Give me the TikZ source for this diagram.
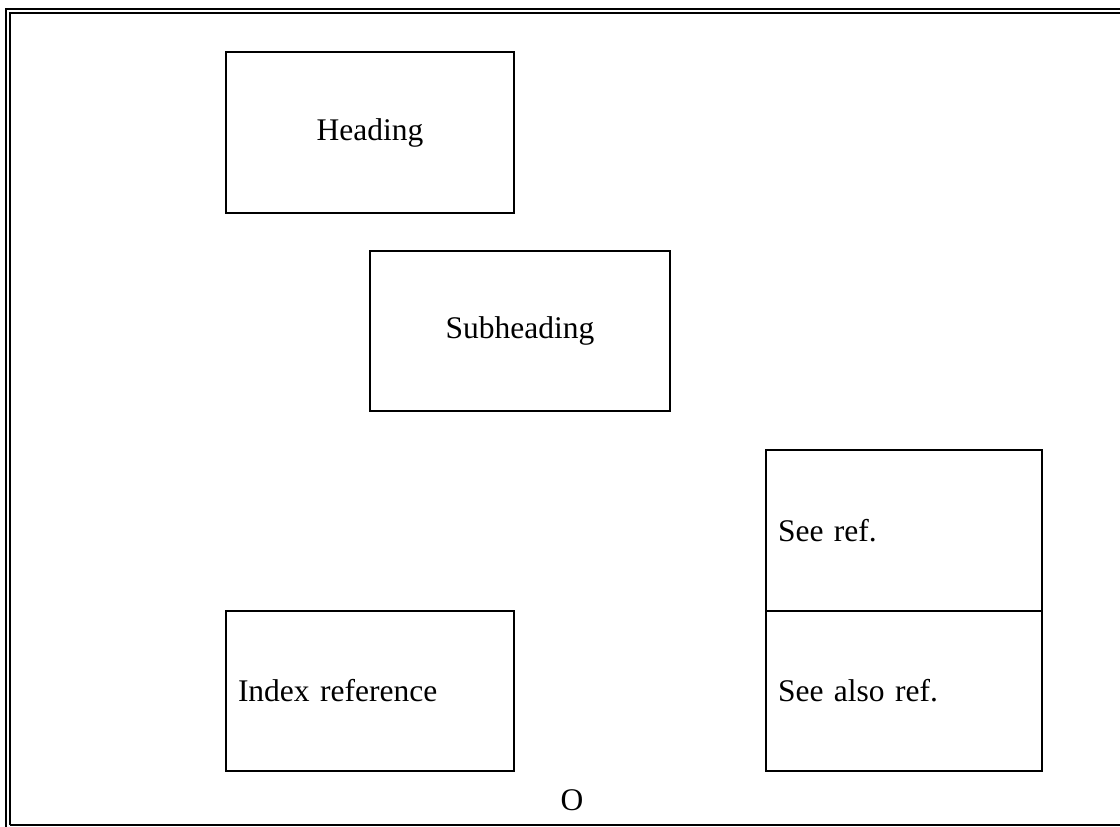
\documentclass[tikz,border=0pt]{standalone}
\usepackage{fontspec}
\setmainfont{Liberation Serif}
\begin{document}
\begin{tikzpicture}[x=0.5pt,y=-0.5pt,
  frameline/.style={line width=1pt},
  boxc/.style={draw, line width=1pt, rectangle, inner sep=0pt, font=\fontsize{15.75}{19}\selectfont},
  boxl/.style={draw, line width=1pt, rectangle, inner sep=6pt, align=left, font=\fontsize{15.75}{19}\selectfont},
  plain/.style={inner sep=0pt, font=\fontsize{15.75}{19}\selectfont}]
\useasboundingbox (0,0) rectangle (1120,826);
\begin{scope}
\clip (0,0) rectangle (1120,826);
\draw[frameline] (6,840) -- (6,9) -- (1130,9);
\draw[frameline] (10,825) -- (10,13) -- (1130,13);
\draw[frameline] (10,825) -- (1130,825);
\end{scope}
\node[boxc, minimum width=144pt, minimum height=80.5pt] (heading) at (370,132.5) {Heading};
\node[boxc, minimum width=150pt, minimum height=80pt] (sub) at (520,331) {Subheading};
\node[boxl, text width=126pt, minimum height=80.5pt] (see) at (904,530.5) {See ref.};
\node[boxl, text width=126pt, minimum height=80pt] (seealso) at (904,691) {See also ref.};
\node[boxl, text width=132pt, minimum height=80pt] (index) at (370,691) {Index reference};
\node[plain] (o) at (572,800) {O};
\end{tikzpicture}
\end{document}
